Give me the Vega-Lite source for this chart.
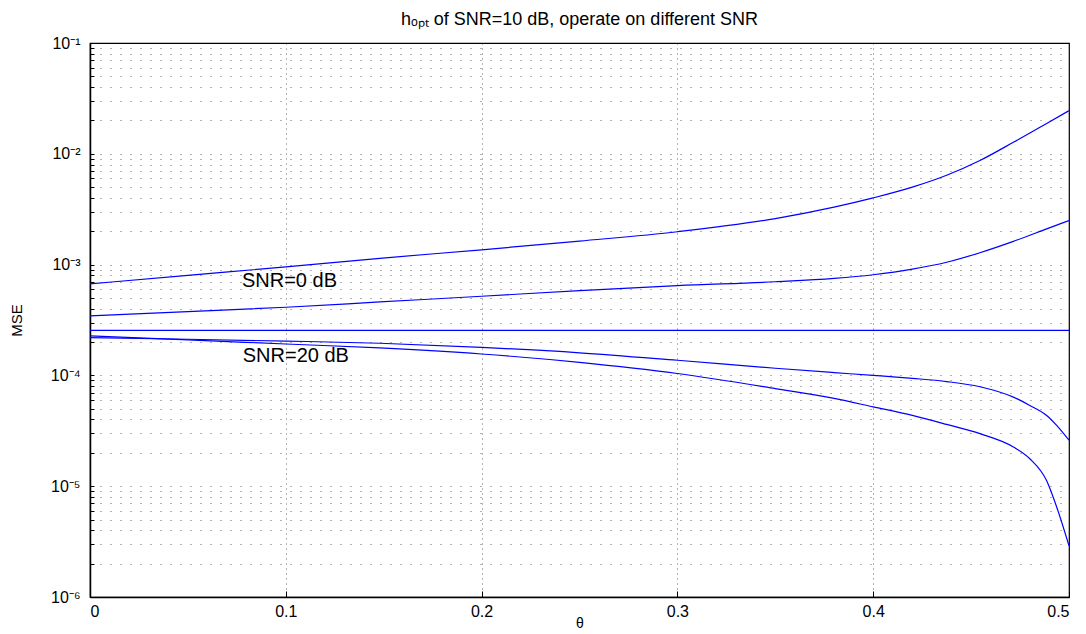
{
  "$schema": "https://vega.github.io/schema/vega-lite/v6.json",
  "width": 979,
  "height": 554,
  "autosize": {"type": "none"},
  "padding": {"left": 90, "top": 43, "right": 17, "bottom": 37},
  "background": "white",
  "config": {"view": {"stroke": "black", "strokeWidth": 1.2}, "font": "Liberation Sans"},
  "title": {"text": "hₒₚₜ of SNR=10 dB, operate on different SNR", "fontSize": 18, "fontWeight": "normal", "font": "Liberation Sans", "color": "black", "offset": 6, "anchor": "middle"},
  "datasets": {
    "curves": [
      {"series": "SNR=0 dB", "theta": 0, "mse": 0.00067},
      {"series": "SNR=0 dB", "theta": 0.05, "mse": 0.0008},
      {"series": "SNR=0 dB", "theta": 0.1, "mse": 0.000953},
      {"series": "SNR=0 dB", "theta": 0.148, "mse": 0.00114},
      {"series": "SNR=0 dB", "theta": 0.2, "mse": 0.00136},
      {"series": "SNR=0 dB", "theta": 0.25, "mse": 0.00163},
      {"series": "SNR=0 dB", "theta": 0.3, "mse": 0.00198},
      {"series": "SNR=0 dB", "theta": 0.35, "mse": 0.0026},
      {"series": "SNR=0 dB", "theta": 0.38, "mse": 0.0033},
      {"series": "SNR=0 dB", "theta": 0.4, "mse": 0.004},
      {"series": "SNR=0 dB", "theta": 0.42, "mse": 0.005},
      {"series": "SNR=0 dB", "theta": 0.4375, "mse": 0.0064},
      {"series": "SNR=0 dB", "theta": 0.4545, "mse": 0.0087},
      {"series": "SNR=0 dB", "theta": 0.4716, "mse": 0.0127},
      {"series": "SNR=0 dB", "theta": 0.4886, "mse": 0.0188},
      {"series": "SNR=0 dB", "theta": 0.5, "mse": 0.0245},
      {"series": "SNR=5 dB", "theta": 0, "mse": 0.000344},
      {"series": "SNR=5 dB", "theta": 0.05, "mse": 0.000377},
      {"series": "SNR=5 dB", "theta": 0.1, "mse": 0.000412},
      {"series": "SNR=5 dB", "theta": 0.148, "mse": 0.00046},
      {"series": "SNR=5 dB", "theta": 0.2, "mse": 0.000518},
      {"series": "SNR=5 dB", "theta": 0.25, "mse": 0.000582},
      {"series": "SNR=5 dB", "theta": 0.3, "mse": 0.000646},
      {"series": "SNR=5 dB", "theta": 0.35, "mse": 0.0007},
      {"series": "SNR=5 dB", "theta": 0.38, "mse": 0.00075},
      {"series": "SNR=5 dB", "theta": 0.4, "mse": 0.00081},
      {"series": "SNR=5 dB", "theta": 0.42, "mse": 0.00091},
      {"series": "SNR=5 dB", "theta": 0.4375, "mse": 0.00105},
      {"series": "SNR=5 dB", "theta": 0.4545, "mse": 0.00128},
      {"series": "SNR=5 dB", "theta": 0.4716, "mse": 0.00162},
      {"series": "SNR=5 dB", "theta": 0.4886, "mse": 0.0021},
      {"series": "SNR=5 dB", "theta": 0.5, "mse": 0.0025},
      {"series": "SNR=10 dB", "theta": 0, "mse": 0.000255},
      {"series": "SNR=10 dB", "theta": 0.25, "mse": 0.000255},
      {"series": "SNR=10 dB", "theta": 0.5, "mse": 0.000255},
      {"series": "SNR=15 dB", "theta": 0, "mse": 0.000219},
      {"series": "SNR=15 dB", "theta": 0.05, "mse": 0.000212},
      {"series": "SNR=15 dB", "theta": 0.1, "mse": 0.000204},
      {"series": "SNR=15 dB", "theta": 0.148, "mse": 0.000195},
      {"series": "SNR=15 dB", "theta": 0.2, "mse": 0.000179},
      {"series": "SNR=15 dB", "theta": 0.25, "mse": 0.00016},
      {"series": "SNR=15 dB", "theta": 0.3, "mse": 0.000137},
      {"series": "SNR=15 dB", "theta": 0.35, "mse": 0.000116},
      {"series": "SNR=15 dB", "theta": 0.38, "mse": 0.000106},
      {"series": "SNR=15 dB", "theta": 0.4, "mse": 0.0001},
      {"series": "SNR=15 dB", "theta": 0.42, "mse": 0.000094},
      {"series": "SNR=15 dB", "theta": 0.4375, "mse": 0.000088},
      {"series": "SNR=15 dB", "theta": 0.4545, "mse": 0.000079},
      {"series": "SNR=15 dB", "theta": 0.4716, "mse": 0.0000637},
      {"series": "SNR=15 dB", "theta": 0.48, "mse": 0.0000536},
      {"series": "SNR=15 dB", "theta": 0.4886, "mse": 0.0000435},
      {"series": "SNR=15 dB", "theta": 0.4937, "mse": 0.0000354},
      {"series": "SNR=15 dB", "theta": 0.5, "mse": 0.000026},
      {"series": "SNR=20 dB", "theta": 0, "mse": 0.000227},
      {"series": "SNR=20 dB", "theta": 0.05, "mse": 0.000209},
      {"series": "SNR=20 dB", "theta": 0.1, "mse": 0.000192},
      {"series": "SNR=20 dB", "theta": 0.148, "mse": 0.000177},
      {"series": "SNR=20 dB", "theta": 0.2, "mse": 0.000156},
      {"series": "SNR=20 dB", "theta": 0.25, "mse": 0.000131},
      {"series": "SNR=20 dB", "theta": 0.3, "mse": 0.000104},
      {"series": "SNR=20 dB", "theta": 0.35, "mse": 0.000076},
      {"series": "SNR=20 dB", "theta": 0.38, "mse": 0.000062},
      {"series": "SNR=20 dB", "theta": 0.4, "mse": 0.000052},
      {"series": "SNR=20 dB", "theta": 0.42, "mse": 0.0000435},
      {"series": "SNR=20 dB", "theta": 0.4375, "mse": 0.0000361},
      {"series": "SNR=20 dB", "theta": 0.4545, "mse": 0.0000298},
      {"series": "SNR=20 dB", "theta": 0.4716, "mse": 0.0000226},
      {"series": "SNR=20 dB", "theta": 0.48, "mse": 0.0000177},
      {"series": "SNR=20 dB", "theta": 0.4886, "mse": 0.0000112},
      {"series": "SNR=20 dB", "theta": 0.4937, "mse": 0.0000065},
      {"series": "SNR=20 dB", "theta": 0.5, "mse": 0.0000029}
    ],
    "labels": [
      {"label": "SNR=0 dB", "theta": 0.0776, "mse": 0.000706},
      {"label": "SNR=20 dB", "theta": 0.078, "mse": 0.000151}
    ]
  },
  "layer": [
    {
      "data": {"name": "curves"},
      "mark": {"type": "line", "color": "#0000ff", "strokeWidth": 1.2, "interpolate": "monotone", "clip": true},
      "encoding": {
        "x": {
          "field": "theta", "type": "quantitative",
          "scale": {"domain": [0, 0.5], "nice": false, "zero": false},
          "axis": {
            "values": [0, 0.1, 0.2, 0.3, 0.4, 0.5],
            "labelExpr": "datum.value == 0 ? '0' : format(datum.value, '.1f')",
            "title": "θ", "titleFontSize": 14, "titleFontWeight": "normal", "titleColor": "black", "titleFont": "Liberation Sans", "titlePadding": -3,
            "labelFontSize": 16, "labelColor": "black", "labelFont": "Liberation Sans", "labelPadding": 12,
            "tickSize": -6, "tickColor": "black", "domainColor": "black", "domainWidth": 1.5,
            "grid": true, "gridDash": [1, 4], "gridColor": "#000000", "gridOpacity": 0.6
          }
        },
        "y": {
          "field": "mse", "type": "quantitative",
          "scale": {"type": "log", "domain": [0.000001, 0.1], "nice": false},
          "axis": {
            "values": [0.000001, 0.000002, 0.000003, 0.000004, 0.000005, 0.000006, 0.000007, 0.000008, 0.000009, 0.00001, 0.00002, 0.00003, 0.00004, 0.00005, 0.00006, 0.00007, 0.00008, 0.00009, 0.0001, 0.0002, 0.0003, 0.0004, 0.0005, 0.0006, 0.0007, 0.0008, 0.0009, 0.001, 0.002, 0.003, 0.004, 0.005, 0.006, 0.007, 0.008, 0.009, 0.01, 0.02, 0.03, 0.04, 0.05, 0.06, 0.07, 0.08, 0.09, 0.1],
            "labelExpr": "abs(log(datum.value)/LN10 - round(log(datum.value)/LN10)) > 0.001 ? '' : (round(-log(datum.value)/LN10) == 1 ? '10⁻¹' : round(-log(datum.value)/LN10) == 2 ? '10⁻²' : round(-log(datum.value)/LN10) == 3 ? '10⁻³' : round(-log(datum.value)/LN10) == 4 ? '10⁻⁴' : round(-log(datum.value)/LN10) == 5 ? '10⁻⁵' : '10⁻⁶')",
            "title": "MSE", "titleFontSize": 15, "titleFontWeight": "normal", "titleColor": "black", "titleFont": "Liberation Sans", "titlePadding": 26,
            "labelFontSize": 16, "labelColor": "black", "labelFont": "Liberation Sans", "labelPadding": 14, "labelOverlap": false,
            "tickSize": -4, "tickColor": "black", "domainColor": "black", "domainWidth": 1.5,
            "grid": true, "gridDash": [1, 9], "gridColor": "#000000", "gridOpacity": 0.6
          }
        },
        "detail": {"field": "series", "type": "nominal"}
      }
    },
    {
      "data": {"name": "labels"},
      "mark": {"type": "text", "align": "left", "baseline": "middle", "fontSize": 20, "font": "Liberation Sans", "color": "black"},
      "encoding": {
        "x": {"field": "theta", "type": "quantitative"},
        "y": {"field": "mse", "type": "quantitative"},
        "text": {"field": "label", "type": "nominal"}
      }
    }
  ]
}
